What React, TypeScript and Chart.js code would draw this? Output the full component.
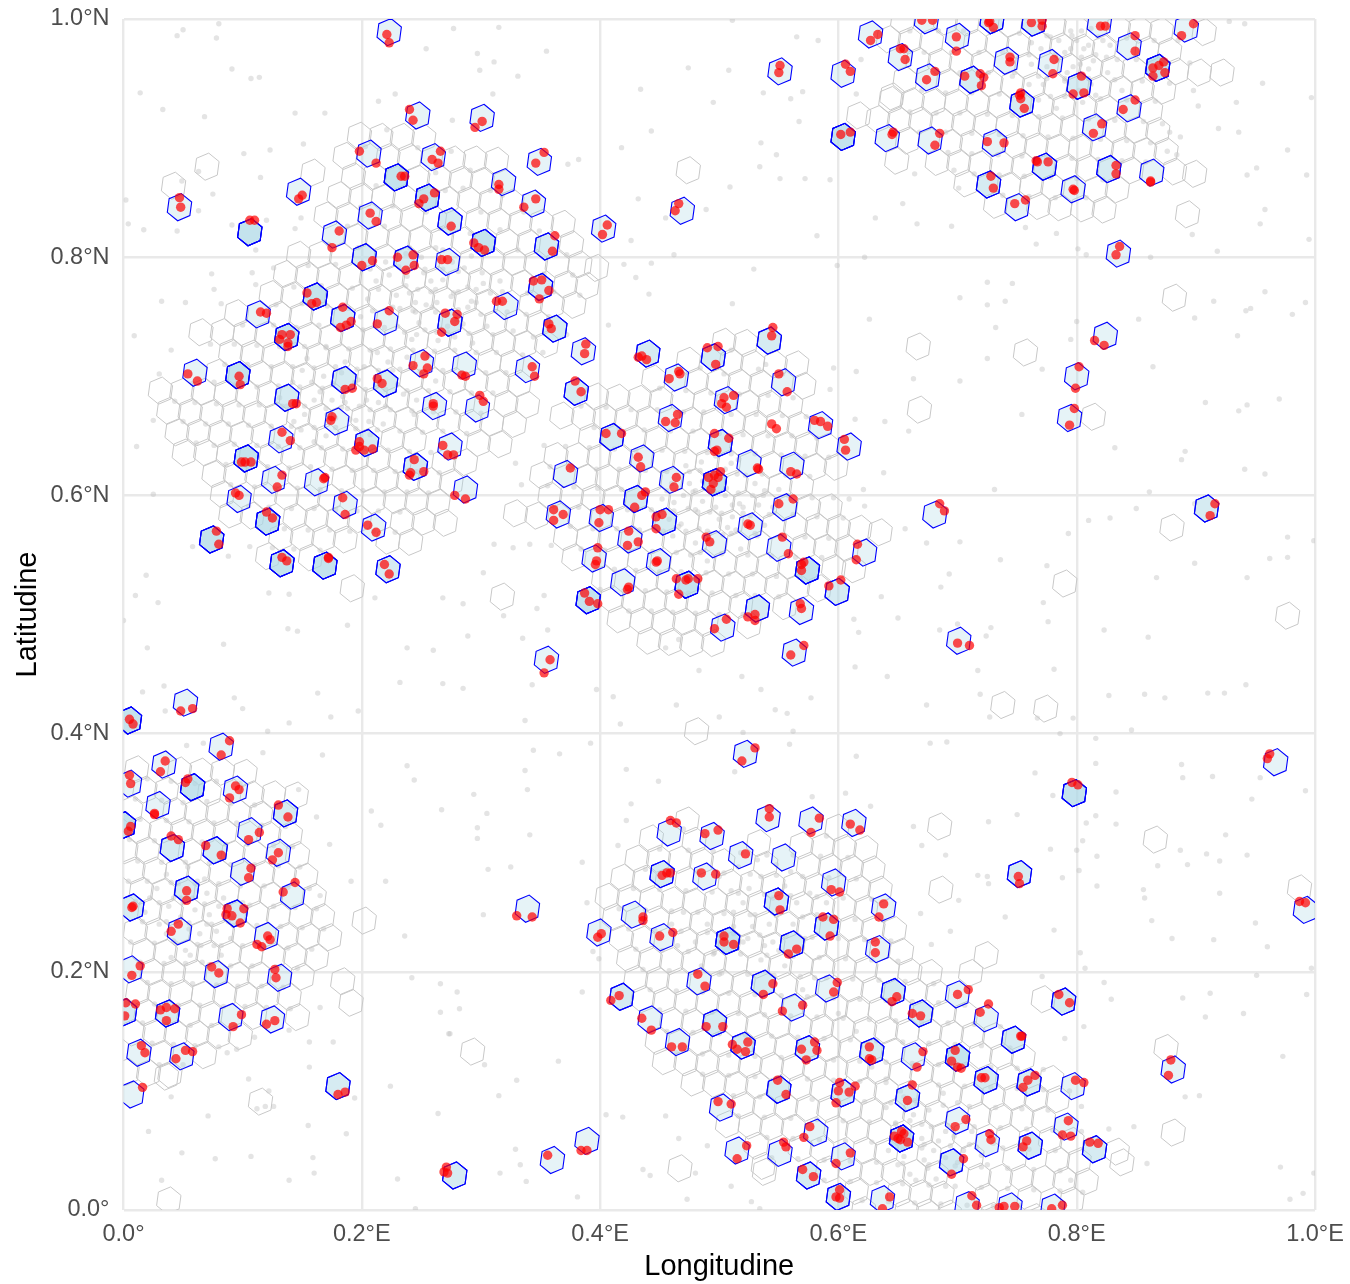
import React, { useEffect, useRef } from "react";
import { Chart, registerables } from "chart.js";

Chart.register(...registerables);

// All coordinates below are flat lon,lat lists in thousandths of a degree.
const xTickLabels = ["0.0°", "0.2°E", "0.4°E", "0.6°E", "0.8°E", "1.0°E"];
const yTickLabels = ["0.0°", "0.2°N", "0.4°N", "0.6°N", "0.8°N", "1.0°N"];

const blueHexDark = [229,867,106,821,161,767,137,733,96,701,103,631,121,578,74,563,133,543,169,541,5,411,58,355,0,323,302,812,604,901,496,611,574,537,473,525,390,512,507,226,700,128,653,60,798,350,868,959,255,850];

const blueHexMedium = [202,800,237,798,184,749,185,697,220,694,137,682,204,644,245,624,222,538,136,333,77,302,41,304,53,269,7,254,94,249,1,166,37,165,180,104,278,29,355,809,350,775,362,740,380,687,274,745,274,830,440,719,495,716,542,730,410,649,501,644,430,597,454,578,532,505,599,519,452,282,548,259,590,238,561,223,537,190,646,183,418,179,496,157,520,138,574,135,628,133,550,101,604,98,575,29,600,11,752,282,669,165,747,143,789,175,724,109,760,107,658,94,761,54,815,51,695,40,909,589,712,949,729,999,764,997,802,944,754,929,773,876,827,874,726,861];

const blueHexLight = [223,989,247,919,260,884,206,887,47,842,147,855,207,835,177,819,272,796,113,752,220,746,60,703,250,711,261,675,179,662,132,647,126,613,162,611,97,597,186,592,210,573,52,426,82,389,34,374,5,358,94,353,29,340,106,318,130,300,100,284,142,264,47,234,120,230,6,202,78,198,131,195,90,162,125,160,13,132,49,129,7,97,301,917,349,880,319,863,344,845,403,824,321,759,386,721,286,709,339,706,297,673,551,956,604,954,641,900,627,987,652,968,469,839,464,699,506,680,459,665,554,695,585,659,609,641,435,631,460,613,525,627,561,625,371,618,555,590,365,584,401,581,526,574,425,563,496,559,550,556,395,547,449,544,419,527,622,552,569,503,503,489,355,462,563,468,522,383,287,605,274,641,458,317,494,314,541,329,577,327,613,325,518,298,554,296,339,253,399,233,488,280,428,248,452,229,596,275,638,254,633,219,483,192,591,186,442,160,562,170,465,141,502,86,581,65,604,45,515,50,551,48,637,9,360,42,389,58,992,252,700,181,724,161,663,129,797,104,881,118,700,75,791,70,725,56,708,4,744,3,780,2,681,584,701,478,967,376,675,951,700,985,741,965,778,963,819,996,844,977,892,992,844,925,815,909,677,898,731,896,863,871,797,857,750,842,835,803,824,734,800,700,794,665,674,999];

const redPoints = [221,987,223,980,240,924,243,915,266,889,259,882,264,879,198,889,212,879,233,868,236,868,261,854,252,849,248,845,47,850,48,842,106,831,110,831,150,852,147,849,207,837,212,830,181,822,175,808,209,797,200,793,230,800,243,802,244,793,237,789,267,798,272,798,154,770,162,762,158,761,184,758,191,746,187,743,182,741,115,754,120,753,223,755,213,744,270,753,267,737,133,735,140,735,131,731,138,728,138,725,97,700,98,693,54,702,62,696,253,717,255,707,243,709,252,702,213,698,217,694,192,690,186,689,260,675,260,677,142,677,145,677,175,666,174,663,133,653,140,646,
99,628,102,628,107,628,133,617,129,607,168,614,169,615,94,602,97,600,184,598,186,584,120,586,125,581,205,575,212,569,78,570,80,559,133,548,137,545,172,548,172,547,219,542,223,534,198,645,198,641,202,638,195,638,209,639,244,630,252,620,241,619,240,617,268,642,272,634,48,419,58,421,5,412,8,408,89,394,82,382,35,377,31,368,5,365,6,358,54,362,52,359,94,356,97,353,89,346,130,340,138,330,26,333,26,332,6,322,4,318,40,314,46,311,69,306,82,298,114,317,105,311,130,300,125,294,
107,287,105,279,144,275,134,267,53,268,53,260,8,255,7,254,87,253,86,248,91,247,101,253,98,241,46,240,40,234,121,230,123,227,112,223,116,221,14,205,7,197,74,204,80,199,127,202,128,195,2,174,10,173,1,163,31,168,36,170,43,169,36,159,99,164,92,154,127,159,120,156,15,138,18,132,52,134,58,133,44,127,186,99,180,97,16,103,271,36,269,32,272,31,
330,247,343,246,398,229,401,232,452,281,456,283,459,283,485,283,497,282,436,246,436,243,450,230,461,233,504,230,504,225,512,223,550,264,551,252,587,246,596,244,593,230,594,269,601,267,638,257,634,246,631,225,631,216,558,215,565,219,482,198,488,188,545,190,537,181,599,191,596,183,570,172,553,167,649,179,645,175,416,180,409,176,435,161,443,151,489,154,503,154,460,137,469,137,524,141,511,139,522,133,515,135,569,135,580,141,582,134,573,126,626,137,626,127,628,126,549,109,556,97,601,107,600,100,609,99,614,104,598,90,499,91,510,89,576,70,571,61,554,57,556,53,523,54,515,43,610,48,598,39,570,34,579,28,601,17,598,11,601,10,643,11,637,1,356,46,384,50,389,50,
751,280,752,274,987,259,992,258,700,181,709,185,662,165,669,163,719,166,726,173,753,146,754,146,785,181,794,174,671,133,666,120,698,134,695,125,700,120,703,119,720,111,723,111,759,109,765,113,755,103,799,109,806,107,879,126,877,113,662,105,658,92,707,76,698,70,793,75,788,63,795,62,727,64,728,59,758,58,755,53,811,57,818,56,653,66,658,57,652,59,647,62,655,64,650,60,705,43,695,30,712,12,716,4,735,2,739,3,748,3,779,1,788,4,
301,914,295,909,353,888,346,879,315,861,315,857,346,849,336,842,406,827,402,819,362,818,360,805,294,812,298,808,303,806,344,780,351,781,357,772,349,765,313,763,318,763,280,752,278,746,357,744,359,740,388,727,387,719,343,708,345,700,284,701,287,700,379,696,384,687,299,684,302,679,275,826,551,961,550,955,606,962,610,956,602,903,610,905,633,987,627,982,646,905,645,903,466,845,463,839,435,717,439,714,432,716,466,704,467,702,458,698,490,724,499,725,497,710,545,741,544,734,512,684,504,682,502,677,506,674,550,702,557,687,465,668,455,662,463,661,580,663,585,662,591,658,652,975,544,660,548,656,
605,647,606,638,405,652,418,652,432,632,434,624,464,615,462,607,496,652,508,648,498,638,496,637,532,623,533,622,560,620,565,618,375,623,438,603,435,600,429,590,491,615,496,617,501,620,499,615,495,610,493,605,562,597,550,593,361,588,369,584,361,579,400,588,407,588,399,577,447,582,452,584,447,572,424,570,423,558,432,561,524,576,526,575,489,565,492,561,553,565,558,551,571,544,569,542,569,537,616,559,615,546,398,556,397,545,396,542,447,544,448,545,424,523,423,521,464,530,472,529,474,530,482,530,466,517,592,524,602,529,387,518,391,511,398,509,568,509,569,505,506,496,496,488,530,500,524,498,530,495,571,474,560,466,358,462,353,451,530,388,519,377,459,327,464,325,488,316,499,319,542,337,542,330,584,329,577,317,610,324,618,319,522,299,278,600,287,597,277,634,
685,593,689,587,916,593,912,583,700,476,710,474,796,359,801,357,962,383,960,379,
670,999,679,999,699,985,699,973,655,975,656,966,726,997,727,998,730,993,762,997,771,994,771,999,820,994,824,994,898,996,888,986,849,986,849,973,744,968,744,964,781,966,780,954,681,956,674,949,706,952,719,954,722,951,720,944,804,952,797,937,806,938,753,938,753,933,756,925,752,936,873,964,869,961,864,959,874,955,864,952,849,932,839,924,821,912,814,904,685,904,681,894,725,897,739,896,766,881,767,880,776,880,833,877,833,870,862,863,862,864,728,868,730,858,797,857,798,856,757,848,748,845,836,809,833,802,815,730,823,726,802,708,799,690,798,673,794,659];

const greyHexIsolated = [42,860,70,876,159,871,397,791,329,585,192,522,318,515,474,873,617,919,645,935,649,881,922,955,899,870,893,836,882,766,667,725,757,720,668,672,814,666,880,573,790,526,977,499,738,424,774,421,481,402,635,569,685,322,866,311,686,269,724,214,711,199,772,177,875,136,881,65,987,270,834,49,202,243,184,192,191,174,115,91,38,8,36,112,467,35,293,133,538,32];

const greyHexNorthWest = [198,902,216,901,234,901,252,900,186,885,204,885,222,884,240,884,259,883,277,882,295,882,313,881,193,868,211,868,229,867,247,866,265,866,283,865,301,864,320,864,181,852,199,851,218,850,236,850,254,849,272,848,290,848,308,847,326,846,344,846,170,835,188,835,206,834,224,833,242,833,261,832,279,831,297,831,315,830,333,829,351,829,369,828,177,818,195,817,213,817,231,816,249,815,267,815,285,814,303,813,322,813,340,812,358,811,376,811,147,802,165,802,183,801,202,800,220,800,238,799,256,798,274,798,292,797,310,796,328,796,346,795,364,794,383,794,136,786,154,785,172,784,190,784,208,783,226,782,244,782,263,781,281,780,299,780,317,779,335,778,353,778,371,777,389,776,124,769,142,768,161,768,179,767,197,766,215,766,233,765,251,764,269,764,287,763,305,762,324,762,342,761,360,760,378,760,95,753,113,753,131,752,149,751,167,751,185,750,203,749,222,749,240,748,258,747,276,747,294,746,312,745,330,745,348,744,366,743,65,737,83,737,102,736,120,735,138,735,156,734,174,733,192,733,210,732,228,731,246,731,265,730,283,729,301,729,319,728,337,727,355,727,90,720,108,719,126,718,145,718,163,717,181,716,199,716,217,715,235,714,253,714,271,713,289,712,307,712,326,711,344,710,61,704,79,703,97,702,115,702,133,701,151,700,169,700,187,699,206,698,224,698,242,697,260,696,278,696,296,695,314,694,332,694,31,688,49,687,67,687,86,686,104,685,122,685,140,684,158,683,176,683,194,682,212,681,230,681,248,680,267,679,285,678,303,678,321,677,339,676,38,671,56,670,74,669,92,669,110,668,128,667,147,667,165,666,183,665,201,665,219,664,237,663,255,663,273,662,291,661,309,661,328,660,45,653,63,653,81,652,99,651,117,651,135,650,153,649,171,649,189,648,207,647,226,647,244,646,262,645,280,645,298,644,316,643,51,636,69,636,88,635,106,634,124,634,142,633,160,632,178,632,196,631,214,630,232,630,250,629,269,628,287,628,76,618,94,618,112,617,130,616,148,616,167,615,185,614,203,614,221,613,239,612,257,612,275,611,293,610,83,601,101,600,119,600,137,599,155,598,173,598,192,597,210,596,228,596,246,595,264,594,282,594,90,584,108,583,126,582,144,582,162,581,180,580,198,580,216,579,234,578,252,578,270,577,132,565,150,565,168,564,186,563,204,563,222,562,241,561,121,549,139,548,157,548,175,547];

const greyHexCentre = [504,729,522,728,474,713,492,713,510,712,528,711,547,710,565,710,445,698,463,697,481,696,499,695,517,695,535,694,553,693,571,692,379,683,397,683,415,682,433,681,451,680,469,680,488,679,506,678,524,677,542,677,560,676,368,667,386,666,404,666,422,665,440,664,458,663,476,663,494,662,512,661,530,660,549,660,567,659,585,658,392,649,410,648,429,648,447,647,465,646,483,645,501,645,519,644,537,643,555,642,573,642,591,641,610,640,363,633,381,633,399,632,417,631,435,631,453,630,471,629,490,628,508,627,526,627,544,626,562,625,580,624,598,624,351,617,370,616,388,615,406,615,424,614,442,613,460,612,478,611,496,610,514,610,532,609,551,608,569,608,358,600,376,599,394,598,412,597,431,597,449,596,467,595,485,594,503,594,521,593,539,592,557,591,575,590,593,590,347,583,365,583,383,582,401,581,419,580,437,580,455,579,473,578,492,577,510,577,528,576,546,575,564,574,582,574,600,573,618,572,371,565,390,564,408,564,426,563,444,562,462,562,480,561,498,560,516,559,534,559,552,558,571,557,589,556,607,556,378,548,396,547,414,547,433,546,451,545,469,544,487,544,505,543,523,542,541,541,559,541,577,540,596,539,613,538,403,530,421,529,439,529,457,528,475,527,494,526,512,525,530,525,548,524,566,523,584,522,392,514,410,513,428,512,446,511,464,511,482,510,500,509,518,508,536,508,555,507,416,496,435,495,453,494,471,494,489,493,507,492,525,491,441,478,459,477,477,476,495,476];

const greyHexNorthEast = [654,999,672,999,690,998,708,997,726,996,744,996,762,995,781,994,799,993,817,993,835,992,853,991,871,990,889,990,907,989,642,983,660,982,678,981,696,981,715,980,733,979,751,978,769,978,787,977,805,976,823,975,841,975,859,974,878,973,649,966,667,965,685,964,703,964,721,963,740,962,758,961,776,961,794,960,812,959,830,958,848,958,866,957,884,956,903,955,656,949,674,948,692,947,710,947,728,946,746,945,764,944,782,943,801,943,819,942,837,941,855,940,873,940,644,932,662,931,680,930,699,930,717,929,735,928,753,928,771,927,789,926,807,925,825,925,844,924,862,923,633,916,651,915,669,915,687,914,705,913,723,912,742,911,760,910,778,910,796,909,814,908,832,907,850,907,868,906,658,898,676,897,694,896,712,896,730,895,748,894,766,893,784,892,803,892,821,891,839,890,857,889,875,889,683,880,701,879,719,878,737,878,755,877,773,876,791,875,809,875,827,874,846,873,864,872,882,872,707,862,725,861,743,860,762,860,780,859,798,858,816,857,834,857,732,844,750,843,768,843,786,842,805,841,823,840];

const greyHexSouthWest = [11,370,29,369,47,369,65,368,83,368,102,367,0,353,18,353,36,352,54,352,72,350,90,350,108,349,126,349,145,348,6,336,24,336,43,335,61,334,79,334,97,333,115,332,133,332,13,319,31,318,49,318,67,317,85,317,103,316,122,315,140,315,2,302,20,302,38,301,56,301,74,300,92,299,110,299,128,298,146,298,8,285,26,285,45,284,63,283,81,283,99,282,117,282,135,281,153,280,15,268,33,267,51,267,69,266,87,266,106,265,124,264,142,264,160,263,4,251,22,251,40,250,58,250,76,249,94,248,112,248,130,247,149,247,167,246,10,234,28,234,47,233,65,232,83,232,101,231,119,231,137,230,155,230,173,229,17,217,35,216,53,216,71,215,89,215,107,214,126,213,144,213,162,212,6,200,24,200,42,199,60,199,78,198,96,197,114,197,132,196,150,196,12,183,30,182,48,182,67,181,85,181,103,180,121,180,139,179,1,166,19,166,37,165,55,165,73,164,91,164,110,163,128,162,146,162,8,149,26,149,44,148,62,148,80,147,98,146,14,132,32,131,50,131,68,130,3,116,21,115,39,114];

const greyHexSouth = [473,327,581,322,599,321,443,312,461,311,479,310,497,309,515,308,533,308,551,307,569,306,587,305,605,304,623,303,431,295,449,295,467,294,485,293,503,292,521,291,539,290,557,290,575,289,593,288,611,287,629,286,419,279,437,278,455,277,473,277,491,276,509,275,527,274,545,273,563,272,581,272,599,271,617,270,635,269,406,263,424,262,443,261,461,260,479,259,497,259,515,258,533,257,551,256,569,256,587,255,605,254,623,253,641,252,412,246,430,245,448,244,467,243,485,242,503,241,521,241,539,240,557,239,575,238,593,237,611,237,629,236,647,235,418,228,436,227,454,227,472,226,490,225,509,224,527,223,545,222,563,222,581,221,599,220,617,219,635,218,653,217,424,211,442,210,460,209,478,209,496,208,514,207,533,206,551,205,569,205,587,203,605,203,623,202,641,201,660,200,677,199,430,194,448,193,466,192,484,191,502,191,520,190,538,189,556,188,574,188,592,187,611,186,629,185,647,184,665,183,683,182,701,181,436,177,454,176,472,175,490,174,508,173,526,173,544,172,562,171,580,170,598,170,616,168,635,168,653,167,671,166,689,165,707,164,725,163,442,160,460,159,478,158,496,157,514,156,532,155,550,155,568,154,586,153,604,152,622,151,640,151,658,150,677,149,695,148,713,147,731,146,749,145,448,142,466,141,484,141,502,140,520,139,538,138,556,137,574,136,592,136,610,135,628,134,646,133,664,133,683,132,701,131,719,130,737,129,755,128,454,125,472,124,490,123,508,123,526,122,544,121,562,120,580,119,598,118,616,118,634,117,652,116,670,115,688,114,706,113,724,113,742,112,760,111,779,110,478,107,496,106,514,105,532,105,550,104,568,103,586,102,604,101,622,100,640,100,658,99,676,98,694,97,712,96,730,95,748,95,766,94,784,93,802,92,502,89,520,88,538,87,556,87,574,86,592,85,610,84,628,83,646,82,664,81,682,81,700,80,718,79,736,78,754,77,772,76,790,76,507,72,526,71,544,70,562,69,580,68,598,68,616,67,634,66,652,65,670,64,688,63,706,63,724,62,742,61,760,60,778,59,796,58,531,54,549,53,568,52,586,51,604,50,622,50,640,49,658,48,676,47,694,46,712,45,730,45,748,44,766,43,784,42,802,41,820,40,838,40,537,37,555,36,573,35,591,34,610,33,628,32,646,32,664,31,682,30,700,29,718,28,736,27,754,27,772,26,790,25,808,24,579,18,597,17,615,16,633,15,651,14,669,14,687,13,705,12,724,11,742,10,760,10,778,9,796,8,603,0,621,0,639,-1,657,-2,675,-2,693,-3,711,-4,729,-5,747,-6,765,-6,783,-7];

const greyDotsOpen = [80,996,50,991,45,986,78,984,91,958,107,950,114,951,14,938,33,924,68,918,144,921,169,921,214,931,228,937,254,975,151,895,123,890,101,887,115,867,63,872,49,864,75,853,2,848,63,839,4,828,17,823,45,822,91,827,120,831,149,833,144,824,111,806,74,786,108,787,126,791,111,777,76,773,32,763,52,762,82,761,9,734,40,722,30,702,25,663,315,993,277,992,297,971,311,964,355,973,299,957,331,952,310,937,276,915,434,941,474,959,508,957,511,999,565,985,583,982,537,938,560,933,570,939,495,930,443,906,567,914,619,966,615,937,418,892,535,896,548,886,534,876,551,866,572,866,593,865,509,859,373,878,382,882,432,849,489,840,455,833,426,814,582,818,631,833,462,802,622,800,599,793,529,790,443,795,420,794,430,783,441,769,511,761,407,743,626,748,615,704,596,707,614,664,639,662,539,710,593,689,928,998,941,996,956,946,997,934,934,930,919,908,936,905,977,890,951,875,943,869,993,869,958,840,954,828,897,819,918,805,995,815,887,901,878,905,902,927,898,940,884,886,876,889,664,870,697,873,701,858,654,845,666,828,695,826,757,825,783,820,766,811,801,807,808,802,862,800,725,779,746,778,702,766,725,760,740,763,800,746,732,741,852,748,899,749,915,763,958,771,942,755,946,757,981,752,992,762,935,734,795,731,725,715,771,706,864,708,663,698,702,696,908,678,970,681,943,676,936,671,754,668,659,654,832,640,891,637,888,630,941,622,958,618,731,605,861,603,850,589,828,581,810,579,899,593,793,568,656,572,674,560,702,561,977,565,999,562,962,547,977,548,899,543,736,546,775,541,693,534,686,523,867,531,943,531,772,510,823,487,860,481,776,494,728,489,724,482,685,487,700,492,717,453,781,454,942,441,827,432,857,433,874,430,910,434,924,434,719,433,674,424,727,414,767,413,797,413,846,403,786,400,816,396,677,392,691,393,888,374,816,375,765,367,889,363,914,364,954,363,992,352,833,351,947,345,780,348,808,325,816,331,833,324,750,332,726,326,663,322,925,315,670,306,778,303,805,310,887,302,909,299,943,298,690,298,817,297,800,302,868,289,893,290,920,293,802,285,788,279,817,272,856,269,857,262,920,266,863,243,950,241,880,228,915,227,960,221,740,246,781,235,694,234,701,260,717,281,725,280,726,274,669,249,678,223,803,216,807,203,997,203,951,197,771,196,823,191,829,177,889,178,912,182,993,181,806,154,790,144,940,165,908,162,973,129,891,95,903,96,804,87,827,68,848,70,859,39,971,36,999,31,795,25,805,15,979,9,990,14,191,276,220,276,165,264,236,230,242,195,266,190,266,166,165,170,176,141,156,141,156,120,139,151,110,145,105,110,224,104,194,94,264,81,71,79,155,71,187,64,21,66,49,48,77,43,107,45,159,44,160,31,139,25,230,26,32,25,245,1,40,95,126,87,119,87,112,85,122,100,87,132,95,135,273,148,306,286,325,288,385,292,302,248,389,258,394,217,399,211,385,183,280,183,282,169,274,148,365,125,303,122,330,109,315,96,405,80,419,78,455,79,329,51,333,38,316,31,338,24,381,11,466,60,490,54,436,34,442,29,480,31,510,20,473,9,527,7,534,1,11,641,25,601,19,533,10,516,29,510,122,518,139,517,0,495,58,557,88,549,106,557,211,514,268,514,188,491,138,488,146,486,20,472,84,475,238,472,260,470,232,443,268,442,163,434,34,440,16,435,93,430,100,421,35,419,174,414,139,409,197,419,121,402,53,390,67,392,117,384,167,382,238,373,244,361,147,353,162,330,208,335,216,323,267,336,173,307,353,642,329,627,334,609,638,619,621,605,609,597,622,591,636,515,650,497,613,496,617,485,614,456,641,448,285,509,353,516,347,505,319,499,356,487,289,482,335,480,302,535,311,559,327,556,341,559,359,558,455,472,466,479,483,453,519,448,535,437,547,420,557,417,577,430,500,414,464,424,411,431,397,437,343,441,285,438,337,411,417,408,562,402,520,401,559,391,392,392,513,368,344,386,366,383,337,369,422,370,449,360,339,353,294,349,305,333,426,341,422,327,297,321,297,312,341,315,415,306,606,350,627,339,615,381,578,347];

const greyDotsNorthWest = [203,893,221,907,247,892,233,875,262,871,275,889,291,873,308,856,285,858,199,842,212,860,226,843,254,838,270,856,300,838,318,852,336,838,349,822,316,823,291,820,266,824,240,808,219,826,188,826,172,811,197,808,155,793,178,794,207,790,231,792,252,787,268,806,286,791,305,804,331,806,353,786,372,802,377,785,143,775,166,776,192,774,214,773,237,776,258,771,277,770,296,773,318,771,339,770,361,771,383,768,128,760,150,761,171,759,189,757,209,755,226,758,245,754,262,754,281,756,300,752,322,754,338,752,357,750,372,735,100,743,126,743,145,741,164,743,183,741,201,739,219,741,236,737,253,739,272,737,290,736,310,735,327,738,344,733,73,727,93,727,112,726,131,725,152,725,170,724,189,723,207,722,224,723,243,722,261,721,278,722,296,720,313,720,335,718,352,720,85,710,104,710,124,708,142,708,160,707,178,708,196,706,214,705,232,706,249,704,268,705,284,703,304,703,321,703,58,694,76,695,94,693,112,691,130,692,148,691,167,690,185,690,203,689,220,689,238,688,256,688,274,687,292,686,310,686,43,679,60,678,78,677,97,676,114,676,133,675,152,675,170,673,188,673,207,672,224,672,242,671,260,670,279,670,300,669,50,662,69,660,88,660,105,659,124,658,141,658,160,657,178,657,195,656,213,655,232,654,251,653,268,654,288,652,61,644,76,642,93,643,112,642,130,641,148,640,166,640,184,639,202,639,222,638,240,637,258,636,275,635,86,626,103,625,121,624,139,623,157,624,175,622,192,621,210,621,228,620,246,620,265,619,90,609,110,607,128,606,146,606,165,605,183,604,201,604,219,603,238,603,256,602,105,591,122,590,141,589,160,589,178,588,196,587,214,587,232,586,135,572,155,571,173,571,190,570,210,570,228,569,125,556,143,555,165,554,254,760,263,762,248,745,272,742,289,758,240,770,258,780,281,771,232,757,242,731,256,717,264,730,238,716,222,712,175,680,186,678,165,687,198,675,152,668,143,662,170,650,184,683,190,664,158,695,206,662,214,678,131,682,194,695,178,665,230,693,246,680,262,696,213,720,280,748,292,763,302,778,316,762,268,790,245,762];

const greyDotsCentre = [510,722,533,706,484,707,504,702,553,702,450,690,472,688,493,686,517,685,541,684,562,682,384,675,405,674,426,672,448,672,470,670,487,670,510,668,531,668,553,667,573,666,395,657,416,656,437,655,459,654,478,654,500,652,520,651,541,650,561,650,582,648,371,641,391,640,412,639,430,638,452,638,471,637,490,636,510,635,530,635,552,634,572,633,592,632,358,624,376,624,397,622,416,622,438,621,456,620,475,620,495,619,515,618,536,618,556,617,576,616,356,608,378,607,398,606,418,605,438,604,456,604,478,603,497,602,516,602,537,600,558,600,578,598,596,598,362,590,382,590,403,589,423,588,443,588,462,587,482,586,502,585,520,585,542,584,562,584,582,582,604,581,375,574,394,572,414,572,433,571,453,570,472,570,492,568,510,568,532,566,552,566,572,565,592,564,384,555,404,554,424,554,444,553,464,552,484,552,502,551,524,550,544,549,564,548,586,548,412,538,430,537,450,536,468,536,489,535,508,534,528,534,548,532,568,531,400,521,420,520,438,520,456,519,474,518,494,518,514,516,530,516,550,515,424,503,443,503,461,502,480,501,500,500,520,500,486,612,495,604,506,606,470,600,480,588,500,580,511,592,490,570,475,610,520,590,462,594,530,610,458,580,505,622,485,628,516,630,528,600,480,560,466,574,497,590,507,573,538,575];

const greyDotsNorthEast = [660,990,684,990,705,990,730,990,752,988,775,986,796,986,818,985,842,984,865,982,885,982,672,972,695,972,718,972,738,972,760,970,782,970,804,968,825,968,850,966,872,965,895,963,682,955,702,955,726,955,746,952,768,952,790,950,810,950,832,949,855,948,878,946,670,940,690,938,712,938,735,937,756,936,778,935,798,934,820,933,842,932,866,931,660,922,682,921,702,921,725,920,746,919,768,918,788,917,810,916,832,915,856,914,872,912,668,905,690,905,712,904,735,903,755,902,776,901,797,900,820,899,842,898,862,896,692,888,712,887,734,886,754,885,775,884,796,883,818,882,838,881,858,880,714,870,735,869,756,868,778,867,800,866,822,865,738,852,760,851,782,850,808,850,762,980,785,982,795,975,810,978,775,960,792,955,803,962,814,965,790,935,805,930,783,925,772,945,812,945,826,955,838,940,768,932];

const greyDotsSouthWest = [20,362,40,360,60,358,78,360,98,358,10,345,32,344,50,342,70,343,90,341,110,340,130,340,14,328,36,327,55,326,76,325,95,325,116,323,136,322,5,311,26,310,46,309,66,309,86,307,104,307,126,306,142,305,12,293,32,292,52,292,72,291,90,290,110,290,130,289,148,288,4,276,20,276,40,275,60,274,80,274,98,272,118,272,138,271,156,270,10,259,30,258,50,258,68,257,88,256,106,256,126,255,144,254,162,253,16,242,36,242,55,241,74,240,92,239,112,239,132,238,150,237,168,236,6,225,26,224,44,224,62,223,82,222,100,222,118,221,138,220,158,219,14,208,34,207,52,207,72,206,90,205,108,205,128,204,146,203,20,191,40,190,58,190,78,189,96,188,116,188,134,187,6,174,26,173,46,172,64,172,84,171,102,171,120,170,140,169,16,157,36,156,56,155,74,155,94,154,24,140,42,139,60,138,80,137,30,122,50,122,58,262,72,248,84,262,64,232,92,245,48,246,76,222,56,214,90,228,36,232,42,262,68,278,100,258];

const greyDotsSouth = [470,320,590,314,450,303,474,302,495,301,518,300,540,298,562,298,585,297,608,296,438,286,460,285,482,284,504,283,526,282,548,281,570,280,592,279,615,278,428,270,450,269,472,268,494,267,516,266,538,265,560,264,582,263,604,262,628,261,416,253,438,252,460,251,482,250,504,249,526,248,548,247,570,246,592,245,614,244,638,243,424,236,446,235,468,234,490,233,512,232,534,231,556,230,578,229,600,228,622,227,644,226,430,219,452,218,474,217,496,216,518,215,540,214,562,213,584,212,606,211,628,210,650,209,436,202,458,201,480,200,502,199,524,198,546,197,568,196,590,195,612,194,634,193,656,192,680,190,442,185,464,184,486,183,508,182,530,181,552,180,574,179,596,178,618,177,640,176,662,175,684,174,706,172,450,168,472,167,494,166,516,165,538,164,560,163,582,162,604,161,626,160,648,159,670,158,692,157,714,156,736,154,456,150,478,149,500,148,522,147,544,146,566,145,588,144,610,143,632,142,654,141,676,140,698,139,720,138,744,136,464,132,486,131,508,130,530,129,552,128,574,127,596,126,618,125,640,124,662,123,684,122,706,121,728,120,750,119,772,118,486,114,508,113,530,112,552,111,574,110,596,109,618,108,640,107,662,106,684,105,706,104,728,103,750,102,772,101,794,100,512,96,534,95,556,94,578,93,600,92,622,91,644,90,666,89,688,88,710,87,732,86,754,85,776,84,516,79,538,78,560,77,582,76,604,75,626,74,648,73,670,72,692,71,714,70,736,69,758,68,780,67,804,66,540,61,562,60,584,59,606,58,628,57,650,56,672,55,694,54,716,53,738,52,760,51,782,50,544,44,566,43,588,42,610,41,632,40,654,39,676,38,698,37,720,36,742,35,764,34,786,33,588,25,610,24,632,23,654,22,676,21,698,20,720,19,742,18,764,17,786,16,620,8,642,7,664,6,686,5,708,4,730,3,752,4,660,75,670,60,680,50,655,45,690,66,675,35,665,25,700,40,690,20,645,60,710,55,725,38,490,240,505,232,480,225,512,250,495,215,520,225,470,250,485,205,500,198,528,238,535,210,465,222,460,240,545,225,555,205,570,185,580,195,600,165,615,150,628,120,640,110,655,95];

const greyDotsCores = [262,773,268,781,275,767,281,788,289,775,296,762,253,790,247,773,238,784,259,758,272,752,285,744,301,787,308,770,243,755,229,768,223,785,316,780,292,801,276,796,262,808,250,800,237,803,220,796,212,780,205,765,199,750,215,745,230,742,246,735,263,737,278,733,293,728,305,742,168,700,176,694,183,703,190,688,197,697,204,680,212,691,220,675,160,680,171,668,183,674,195,663,207,651,218,660,150,705,142,695,137,675,149,655,160,645,226,705,235,685,244,668,154,715,170,725,186,712,202,708,480,604,486,595,492,586,498,611,505,600,511,582,517,593,474,589,468,576,483,572,494,560,503,567,514,571,526,583,533,592,538,604,522,617,510,627,497,633,484,621,472,625,460,610,452,597,447,585,461,566,476,550,490,545,518,555,530,568,545,590,550,605,795,990,800,982,806,975,790,972,784,965,797,960,810,958,816,970,822,982,778,985,770,975,762,962,804,990,812,992,828,978,834,966,790,948,802,940,816,936,775,950,760,945,748,955,28,270,36,282,46,274,54,288,62,276,70,266,38,255,48,262,60,252,70,240,80,255,30,240,42,226,55,236,65,222,78,234,88,242,22,262,18,250,52,218,66,208,82,214,40,212,525,270,535,280,545,262,555,272,565,258,530,248,542,240,552,250,562,240,572,228,520,258,510,268,500,280,512,238,524,228,538,222,550,218,582,248,590,258,576,266,560,284,548,290,532,294,516,288,648,72,656,64,663,80,670,52,678,70,684,58,690,44,697,62,642,50,650,38,660,30,672,42,682,26,705,50,712,66,720,46,730,56,640,86,652,100,664,92,676,84,688,98,700,90];

const hexRadius = 13.7;
const hexTilt = (8 * Math.PI) / 180;

function toPoints(values: number[]) {
  const out: { x: number; y: number }[] = [];
  for (let i = 0; i < values.length; i += 2) out.push({ x: values[i] / 1000, y: values[i + 1] / 1000 });
  return out;
}

// Draws each cell of a dataset around the pixel the library's scales gave its point.
const hexCellsPlugin = {
  id: "hexCells",
  afterDatasetDraw(chart: any, args: any) {
    const ds = chart.data.datasets[args.index];
    const style = ds.hexStyle;
    if (!style) return;
    const { ctx, chartArea } = chart;
    ctx.save();
    ctx.beginPath();
    ctx.rect(chartArea.left, chartArea.top, chartArea.right - chartArea.left, chartArea.bottom - chartArea.top);
    ctx.clip();
    ctx.strokeStyle = style.stroke;
    ctx.lineWidth = style.width;
    ctx.lineJoin = "miter";
    for (const el of args.meta.data) {
      ctx.beginPath();
      for (let k = 0; k < 6; k++) {
        const a = hexTilt + (k * Math.PI) / 3 - Math.PI / 2;
        const px = el.x + 0.96 * hexRadius * Math.cos(a);
        const py = el.y + hexRadius * Math.sin(a);
        if (k === 0) ctx.moveTo(px, py);
        else ctx.lineTo(px, py);
      }
      ctx.closePath();
      if (style.fill) {
        ctx.fillStyle = style.fill;
        ctx.fill();
      }
      for (let p = 0; p < style.passes; p++) ctx.stroke();
    }
    ctx.restore();
  },
};

export default function App() {
  const ref = useRef<HTMLCanvasElement | null>(null);
  useEffect(() => {
    if (!ref.current) return;
    const hexSet = (label: string, values: number[], hexStyle: any, order: number) => ({
      label,
      data: toPoints(values),
      pointRadius: 0,
      hexStyle,
      order,
    });
    const blueAll = [...toPoints(blueHexDark), ...toPoints(blueHexMedium), ...toPoints(blueHexLight)];
    const greyAll = toPoints([...greyHexIsolated, ...greyHexNorthWest, ...greyHexCentre, ...greyHexNorthEast, ...greyHexSouthWest, ...greyHexSouth]);
    // A grey cell that a blue cell already outlines is not drawn a second time.
    const greyVisible = greyAll.filter((g) => !blueAll.some((b) => (b.x - g.x) ** 2 + (b.y - g.y) ** 2 < 0.013 * 0.013));
    const chart = new Chart(ref.current, {
      type: "scatter",
      plugins: [hexCellsPlugin],
      data: {
        datasets: [
          {
            label: "incidents",
            data: toPoints(redPoints),
            pointRadius: 4.7,
            pointBorderWidth: 0,
            pointBackgroundColor: "rgba(255,0,0,0.7)",
            order: 0,
            clip: 0,
          } as any,
          hexSet("dark cells", blueHexDark, { stroke: "#0000ff", fill: "rgba(173,216,230,0.72)", passes: 3, width: 1.1 }, 1),
          hexSet("medium cells", blueHexMedium, { stroke: "#0000ff", fill: "rgba(173,216,230,0.5)", passes: 2, width: 1.1 }, 2),
          hexSet("light cells", blueHexLight, { stroke: "#0000ff", fill: "rgba(173,216,230,0.3)", passes: 1, width: 1.1 }, 3),
          {
            label: "grey cells",
            data: greyVisible,
            pointRadius: 0,
            hexStyle: { stroke: "#c8c8c8", fill: null, passes: 1, width: 1 },
            order: 4,
          } as any,
          {
            label: "events",
            data: toPoints([...greyDotsOpen, ...greyDotsNorthWest, ...greyDotsCentre, ...greyDotsNorthEast, ...greyDotsSouthWest, ...greyDotsSouth, ...greyDotsCores]),
            pointRadius: 2.7,
            pointBorderWidth: 0,
            pointBackgroundColor: "rgba(190,190,190,0.42)",
            order: 5,
            clip: 0,
          } as any,
        ],
      },
      options: {
        responsive: false,
        animation: false,
        events: [],
        layout: { autoPadding: false, padding: { top: 19, right: 35, left: 0, bottom: 0 } },
        plugins: { legend: { display: false }, tooltip: { enabled: false }, title: { display: false } },
        scales: {
          x: {
            type: "linear",
            min: 0,
            max: 1,
            afterFit: (s: any) => { s.height = 74; s.paddingLeft = 0; s.paddingRight = 0; },
            border: { display: false },
            grid: { color: "#e9e9e9", lineWidth: 2.4, drawTicks: false },
            ticks: {
              stepSize: 0.2,
              padding: 10,
              maxRotation: 0,
              color: "#4d4d4d",
              font: { family: "Liberation Sans", size: 23.5 },
              callback: (_v: any, i: number) => xTickLabels[i],
            },
            title: {
              display: true,
              text: "Longitudine",
              color: "#000000",
              font: { family: "Liberation Sans", size: 29 },
              padding: { top: 0, bottom: 0 },
            },
          },
          y: {
            type: "linear",
            min: 0,
            max: 1,
            afterFit: (s: any) => { s.width = 123.5; s.paddingTop = 0; s.paddingBottom = 0; },
            border: { display: false },
            grid: { color: "#e9e9e9", lineWidth: 2.4, drawTicks: false },
            ticks: {
              stepSize: 0.2,
              padding: 14,
              color: "#4d4d4d",
              font: { family: "Liberation Sans", size: 23.5 },
              callback: (_v: any, i: number) => yTickLabels[i],
            },
            title: {
              display: true,
              text: "Latitudine",
              color: "#000000",
              font: { family: "Liberation Sans", size: 29 },
              padding: { top: 11, bottom: 0 },
            },
          },
        },
      },
    } as any);
    return () => chart.destroy();
  }, []);
  return (
    <canvas
      ref={ref}
      width={1350}
      height={1284}
      style={{ position: "fixed", left: 0, top: 0, width: 1350, height: 1284, background: "#ffffff" }}
    />
  );
}
